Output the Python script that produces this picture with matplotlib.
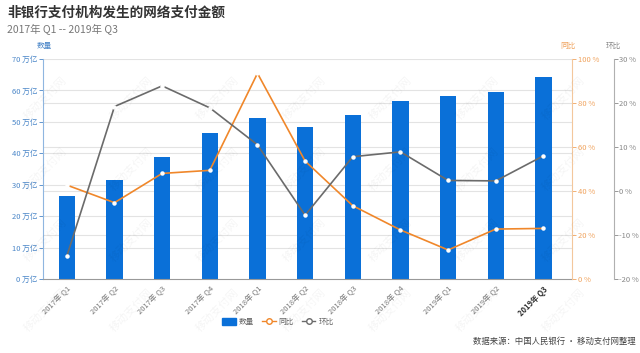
import matplotlib.pyplot as plt
from matplotlib.lines import Line2D
from matplotlib.patches import Patch
import numpy as np

plt.rcParams['font.family'] = ['Noto Sans CJK SC', 'DejaVu Sans']

# Data
quarters = ['2017年 Q1', '2017年 Q2', '2017年 Q3', '2017年 Q4', '2018年 Q1', '2018年 Q2',
            '2018年 Q3', '2018年 Q4', '2019年 Q1', '2019年 Q2', '2019年 Q3']
amount = [26.4, 31.4, 38.9, 46.4, 51.1, 48.3, 52.2, 56.7, 58.1, 59.4, 64.2]      # 万亿
yoy = [42.7, 34.7, 48.0, 49.4, 93.5, 53.6, 33.3, 22.3, 13.2, 22.7, 23.0]         # 同比 %
qoq = [-14.8, 19.2, 23.9, 18.9, 10.5, -5.5, 7.8, 8.9, 2.4, 2.3, 8.0]             # 环比 %

left_ticks = [0, 10, 20, 30, 40, 50, 60, 70]
yoy_ticks = [0, 20, 40, 60, 80, 100]
qoq_ticks = [-20, -10, 0, 10, 20, 30]

bar_color = '#0a70d8'
yoy_color = '#f0872a'
qoq_color = '#6b6b6b'
blue_txt = '#4a86c8'
orange_txt = '#f0a35e'
gray_txt = '#888888'

fig = plt.figure(figsize=(6.4, 3.53), dpi=100)
fig.patch.set_facecolor('white')
ax = fig.add_axes([0.0672, 0.2096, 0.8266, 0.6232])

x = np.arange(len(quarters))

# Grid lines (left axis + percent axes), drawn behind bars
for t in left_ticks[1:]:
    ax.axhline(t, color='#e3e3e3', linewidth=0.8, zorder=0)
for t in yoy_ticks[1:-1]:
    ax.axhline(t * 0.7, color='#e3e3e3', linewidth=0.8, zorder=0)

ax.bar(x, amount, width=0.34, color=bar_color, zorder=2)
ax.set_xlim(-0.5, 10.6)
ax.set_ylim(0, 70)
ax.set_yticks(left_ticks)
ax.set_yticklabels([f'{t} 万亿' for t in left_ticks])
ax.tick_params(axis='y', colors=blue_txt, labelsize=5.5, length=3, width=0.6, pad=1)
ax.spines['left'].set_color('#8fb6e0')
ax.spines['top'].set_visible(False)
ax.spines['right'].set_visible(False)
ax.spines['bottom'].set_color('#999999')
ax.set_xticks(x)
ax.set_xticklabels(quarters, rotation=45, ha='right', rotation_mode='anchor')
ax.tick_params(axis='x', colors='#777777', labelsize=5.5, length=0, pad=4)
for lbl in ax.get_xticklabels():
    lbl.set_color('#777777')
ax.get_xticklabels()[-1].set_fontweight('bold')
ax.get_xticklabels()[-1].set_color('#333333')

# 同比 axis
ax2 = ax.twinx()
ax2.plot(x, yoy, color=yoy_color, linewidth=1.2, marker='o', markersize=2.2,
         markerfacecolor='white', markeredgecolor='white', zorder=3)
ax2.set_ylim(0, 100)
ax2.set_yticks(yoy_ticks)
ax2.set_yticklabels([f'{t} %' for t in yoy_ticks])
ax2.tick_params(axis='y', colors=orange_txt, labelsize=5.5, length=3, width=0.6, pad=1)
ax2.spines['right'].set_color('#f3c79c')
for s in ['top', 'left', 'bottom']:
    ax2.spines[s].set_visible(False)

# 环比 axis
ax3 = ax.twinx()
ax3.spines['right'].set_position(('axes', 1.079))
ax3.plot(x, qoq, color=qoq_color, linewidth=1.2, marker='o', markersize=2.2,
         markerfacecolor='white', markeredgecolor='white', zorder=3)
ax3.set_ylim(-20, 30)
ax3.set_yticks(qoq_ticks)
ax3.set_yticklabels([f'{t} %' for t in qoq_ticks])
ax3.tick_params(axis='y', colors=gray_txt, labelsize=5.5, length=3, width=0.6, pad=1)
ax3.spines['right'].set_color('#b0b0b0')
for s in ['top', 'left', 'bottom']:
    ax3.spines[s].set_visible(False)

# Axis titles
fig.text(44 / 640, 1 - 46 / 353, '数量', color=blue_txt, fontsize=5.5, ha='center', va='center')
fig.text(568 / 640, 1 - 46 / 353, '同比', color=orange_txt, fontsize=5.5, ha='center', va='center')
fig.text(613 / 640, 1 - 46 / 353, '环比', color=gray_txt, fontsize=5.5, ha='center', va='center')

# Title and subtitle
fig.text(7 / 640, 1 - 13 / 353, '非银行支付机构发生的网络支付金额', fontsize=9.8,
         fontweight='bold', color='#333333', ha='left', va='center')
fig.text(7 / 640, 1 - 30 / 353, '2017年 Q1 -- 2019年 Q3', fontsize=7.5,
         color='#777777', ha='left', va='center')

# Legend
handles = [
    Patch(facecolor=bar_color, edgecolor=bar_color),
    Line2D([0], [0], color=yoy_color, linewidth=1, marker='o', markersize=4,
           markerfacecolor='white', markeredgecolor=yoy_color),
    Line2D([0], [0], color=qoq_color, linewidth=1, marker='o', markersize=4,
           markerfacecolor='white', markeredgecolor=qoq_color),
]
leg = fig.legend(handles, ['数量', '同比', '环比'], loc='center', ncol=3,
                 bbox_to_anchor=(278 / 640, 1 - 322 / 353), frameon=False,
                 fontsize=5.5, handlelength=1.8, handleheight=0.9, columnspacing=1.0,
                 handletextpad=0.4)
for t in leg.get_texts():
    t.set_color('#666666')

# Source
fig.text(636 / 640, 1 - 341 / 353, '数据来源：中国人民银行 • 移动支付网整理', fontsize=6,
         color='#444444', ha='right', va='center')

# Watermark (kept inside the canvas)
for wx in np.arange(0.07, 0.95, 0.135):
    for wy in np.arange(0.12, 0.92, 0.2):
        fig.text(wx, wy, '移动支付网', fontsize=8, color='#000000', alpha=0.045,
                 rotation=45, ha='center', va='center', zorder=10)

fig.savefig('out.png', dpi=100, facecolor='white')
